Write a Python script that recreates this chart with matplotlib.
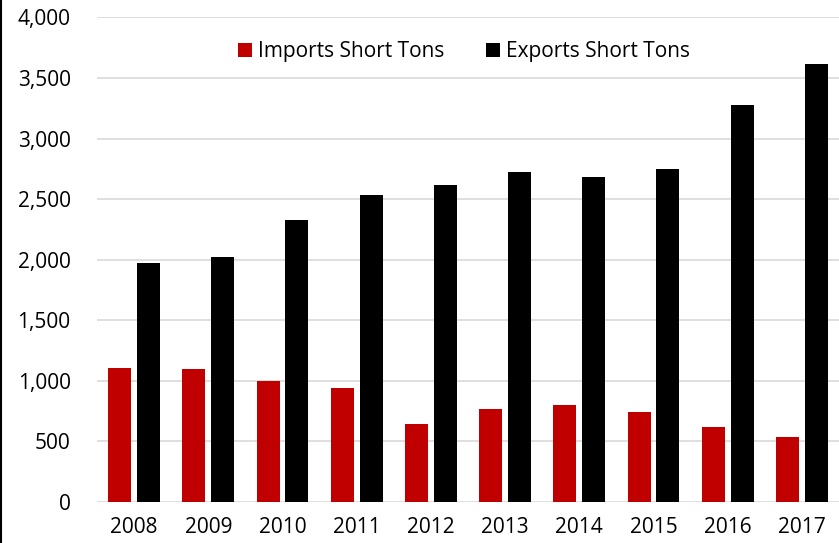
import matplotlib.pyplot as plt
import numpy as np
from matplotlib.lines import Line2D

plt.rcParams['font.family'] = ['Open Sans', 'DejaVu Sans']

years = ['2008', '2009', '2010', '2011', '2012', '2013', '2014', '2015', '2016', '2017']
imports = [1102, 1094, 995, 937, 646, 762, 797, 739, 615, 535]
exports = [1971, 2021, 2327, 2534, 2617, 2725, 2683, 2750, 3273, 3615]

fig = plt.figure(figsize=(8.39, 5.43), dpi=100)
ax = fig.add_axes([0.1156, 0.076, 0.8844, 0.8918])

x = np.arange(len(years))
w = 0.31
ax.bar(x - 0.195, imports, w, color='#C00000', label='Imports Short Tons', zorder=3)
ax.bar(x + 0.195, exports, w, color='#000000', label='Exports Short Tons', zorder=3)

ax.set_xlim(-0.5, len(years) - 0.5)
ax.set_ylim(0, 4000)
ax.set_yticks(np.arange(0, 4001, 500))
ax.set_yticklabels([f'{v:,}' for v in range(0, 4001, 500)])
ax.set_xticks(x)
ax.set_xticklabels(years)
ax.yaxis.grid(True, color='#d9d9d9', lw=1.2, zorder=0)
ax.set_axisbelow(True)
for s in ax.spines.values():
    s.set_visible(False)
ax.tick_params(axis='both', length=0, labelsize=15, colors='#000000')
ax.tick_params(axis='y', pad=19)
ax.tick_params(axis='x', pad=11)

ax.legend(loc='upper center', bbox_to_anchor=(0.495, 0.99), ncol=2, frameon=False,
          fontsize=15, handlelength=0.65, handleheight=0.65, handletextpad=0.3,
          columnspacing=2.0)

# chart border on the left edge
fig.add_artist(Line2D([0.001, 0.001], [0, 1], color='black', lw=1.5, transform=fig.transFigure))

fig.savefig('out.png', dpi=100)
